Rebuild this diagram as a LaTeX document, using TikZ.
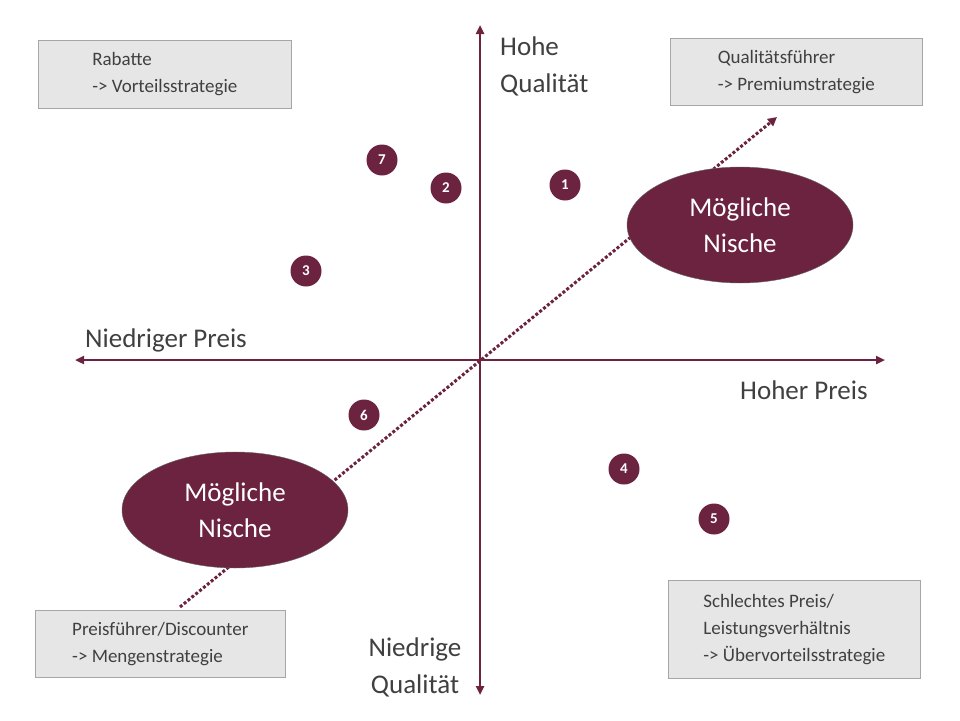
\documentclass[tikz,border=0pt]{standalone}
\usepackage{fontspec}
\setmainfont{Carlito}
\usetikzlibrary{arrows.meta,shapes.geometric}
\definecolor{mar}{HTML}{6B2340}
\definecolor{boxg}{HTML}{E7E6E6}
\definecolor{txt}{HTML}{404040}
\begin{document}
\begin{tikzpicture}[x=1pt,y=-1pt,
 ax/.style={mar,line width=2.5pt,{Triangle[length=9pt,width=8pt]}-{Triangle[length=9pt,width=8pt]}},
 box/.style={draw=gray!70,fill=boxg,line width=0.6pt,anchor=north west,align=left,inner sep=8pt,font=\fontsize{19}{27}\selectfont,text=txt},
 num/.style={circle,fill=mar,text=white,minimum size=31pt,inner sep=0pt,font=\bfseries\fontsize{15}{15}\selectfont},
 ell/.style={ellipse,draw=black!60,fill=mar,text=white,minimum width=226pt,minimum height=116pt,align=center,font=\fontsize{27}{36}\selectfont},
 lab/.style={text=txt,font=\fontsize{27}{37}\selectfont,align=left}]
\useasboundingbox (0,0) rectangle (960,720);
\coordinate (vt) at (480,25); \coordinate (vb) at (480,695);
\coordinate (hl) at (75,360); \coordinate (hr) at (885,360);
\coordinate (ds) at (180,607); \coordinate (de) at (777,117);
\draw[ax] (vb) -- (vt);
\draw[ax] (hl) -- (hr);
\draw[mar,line width=3pt,dotted,-{Triangle[length=9pt,width=9pt]}] (ds) -- (de);
\node[ell] (e1) at (740,225) {Mögliche\\Nische};
\node[ell] (e2) at (235,510) {Mögliche\\Nische};
\node[num] (n1) at (565,185) {1};
\node[num] (n2) at (446,188) {2};
\node[num] (n7) at (382,160) {7};
\node[num] (n3) at (306,271) {3};
\node[num] (n6) at (364,415) {6};
\node[num] (n4) at (624,469) {4};
\node[num] (n5) at (714,519) {5};
\node[lab,anchor=north west,inner sep=0pt] (hq) at (500,37) {Hohe\\Qualität};
\node[lab,anchor=center,align=center] (nq) at (415,667) {Niedrige\\Qualität};
\node[lab,anchor=west,inner sep=0pt] (np) at (85,340) {Niedriger Preis};
\node[lab,anchor=west,inner sep=0pt] (hp) at (740,390) {Hoher Preis};
\node[box,minimum width=253pt,minimum height=68pt] (b1) at (38,40) {Rabatte\\-> Vorteilsstrategie};
\node[box,minimum width=252pt,minimum height=67pt] (b2) at (670,38) {Qualitätsführer\\-> Premiumstrategie};
\node[box,minimum width=250pt,minimum height=67pt] (b3) at (35,610) {Preisführer/Discounter\\-> Mengenstrategie};
\node[box,minimum width=252pt,minimum height=98pt] (b4) at (668,580) {Schlechtes Preis/\\Leistungsverhältnis\\-> Übervorteilsstrategie};
\end{tikzpicture}
\end{document}
